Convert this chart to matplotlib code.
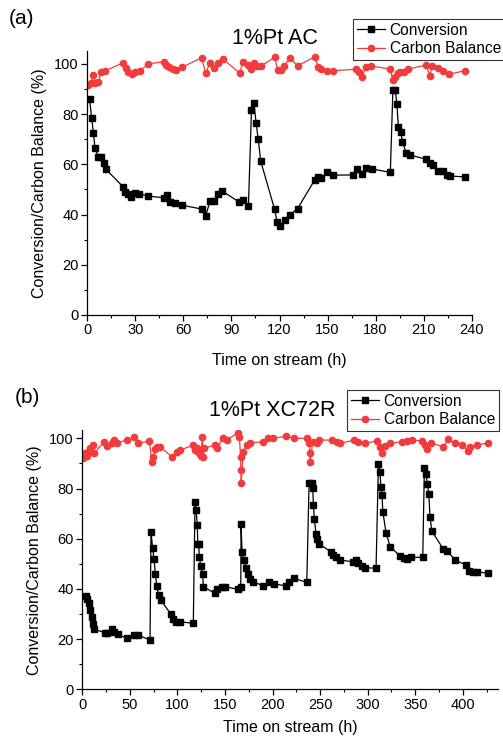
import matplotlib
matplotlib.use("Agg")
import matplotlib.pyplot as plt
from matplotlib.ticker import MultipleLocator

plt.rcParams['font.family'] = ['Liberation Sans', 'DejaVu Sans']

# (a) 1%Pt AC
conv_a_t = [1.4, 2.7, 3.8, 4.8, 6.9, 8.8, 10.6, 11.7, 22.3, 23.5, 25.6, 27.3, 30.0, 32.5, 37.7,
            47.7, 49.8, 51.9, 54.8, 59.4, 71.5, 73.8, 76.7, 79.2, 81.9, 84.4, 95.0, 97.5, 100.6,
            102.5, 104.0, 105.4, 106.7, 108.3, 116.9, 118.5, 120.4, 123.5, 126.3, 131.3,
            141.9, 144.0, 146.0, 149.8, 153.3, 166.0, 168.5, 171.3, 173.8, 177.5,
            189.2, 190.8, 192.3, 193.3, 194.2, 195.8, 196.7, 199.2, 201.7,
            211.7, 213.8, 215.8, 219.0, 222.0, 224.8, 226.3, 235.6]
conv_a = [85.9, 78.6, 72.6, 66.4, 63.1, 63.1, 60.4, 58.0, 51.1, 49.1, 48.2, 47.1, 48.6, 48.3, 47.4,
          46.7, 47.7, 45.0, 44.7, 43.7, 42.2, 39.4, 45.4, 45.4, 48.2, 49.3, 44.9, 45.9, 43.4,
          81.5, 84.4, 76.6, 70.0, 61.2, 42.2, 37.2, 35.5, 37.7, 39.8, 42.4,
          53.7, 55.0, 54.6, 56.8, 55.7, 55.8, 58.0, 56.0, 58.6, 58.2,
          56.8, 89.6, 89.6, 84.1, 75.0, 72.8, 69.1, 64.4, 63.7,
          62.0, 60.7, 59.8, 57.4, 57.4, 55.8, 55.4, 55.0]
cb_a_t = [0.6, 2.3, 3.8, 5.0, 6.9, 8.5, 11.3, 22.5, 24.2, 25.6, 27.7, 30.0, 33.1, 38.1,
          47.7, 49.2, 51.3, 53.3, 55.4, 59.2, 71.5, 73.8, 76.7, 79.2, 81.9, 84.6,
          95.2, 97.1, 100.4, 102.3, 103.9, 105.8, 108.6, 116.9, 119.0, 121.0, 123.1, 126.3, 131.3,
          142.3, 144.0, 146.0, 149.6, 153.3, 168.0, 169.6, 171.5, 173.8, 176.9,
          189.0, 190.8, 192.1, 193.8, 195.4, 197.5, 200.2, 211.7, 213.8, 215.4, 219.0, 222.0, 225.8, 235.6]
cb_a = [91.6, 92.3, 95.6, 92.6, 92.7, 96.9, 97.3, 100.5, 98.3, 96.9, 96.0, 96.9, 97.3, 100.0,
        100.9, 99.6, 98.9, 98.0, 97.6, 98.7, 102.5, 96.3, 100.5, 98.3, 100.5, 102.0,
        96.3, 100.9, 99.6, 97.9, 100.5, 99.2, 99.2, 102.6, 97.4, 97.6, 99.3, 102.3, 99.3,
        102.9, 98.9, 97.9, 97.3, 97.3, 97.9, 96.9, 94.9, 98.7, 99.2,
        98.0, 93.6, 94.7, 96.3, 96.7, 96.9, 97.9, 99.6, 95.2, 99.2, 98.3, 97.3, 95.9, 97.3]

# (b) 1%Pt XC72R
conv_b_t = [3.6, 5.3, 6.7, 8.1, 9.9, 10.9, 12.3, 23.9, 26.3, 31.2, 33.6, 37.9, 46.7, 54.7, 58.9,
            71.2, 72.2, 74.0, 75.4, 76.8, 78.2, 80.3, 82.4, 93.0, 95.1, 98.5, 102.7,
            116.7, 118.5, 119.6, 120.9, 121.4, 122.4, 123.0, 124.5, 126.6, 127.2,
            139.5, 142.0, 146.6, 150.0, 164.0, 166.6, 166.9, 167.9, 170.0, 172.1, 173.9, 176.3, 179.2,
            189.7, 196.6, 201.6, 214.2, 217.7, 222.6, 236.0,
            238.4, 241.2, 242.3, 242.9, 244.0, 245.7, 247.1, 249.2, 261.2, 263.9, 266.8, 271.0,
            285.0, 287.8, 290.2, 293.8, 297.3, 308.8, 311.3, 313.0, 313.8, 315.1, 315.9, 319.3, 323.6,
            334.1, 338.3, 341.1, 345.3, 357.9, 359.6, 361.4, 362.8, 364.2, 365.6, 367.4,
            379.6, 383.8, 391.9, 403.5, 406.9, 410.5, 414.7, 426.3]
conv_b = [37.2, 36.0, 34.3, 31.6, 28.9, 26.0, 24.0, 22.5, 22.5, 24.1, 22.7, 21.9, 20.3, 21.6, 21.6,
          19.6, 62.5, 56.2, 51.8, 45.9, 41.2, 37.6, 35.6, 30.0, 27.9, 26.9, 26.9,
          26.3, 74.7, 71.4, 65.5, 57.9, 57.9, 52.8, 49.1, 45.9, 40.9,
          38.2, 39.8, 40.9, 40.9, 39.8, 40.9, 65.9, 54.7, 51.5, 48.2, 45.8, 43.8, 42.9,
          41.3, 42.9, 42.0, 41.2, 42.9, 44.2, 42.6,
          82.3, 82.1, 80.3, 73.4, 67.8, 61.8, 59.8, 57.9, 54.8, 53.5, 52.6, 51.5,
          50.8, 51.5, 50.2, 49.1, 48.5, 48.2, 89.8, 86.7, 80.7, 77.4, 70.8, 62.4, 56.8,
          53.1, 52.2, 51.8, 52.6, 52.6, 88.0, 85.7, 81.7, 77.8, 68.5, 63.1,
          55.8, 55.1, 51.5, 49.5, 47.1, 46.6, 46.9, 46.2]
cb_b_t = [1.1, 2.8, 4.6, 6.3, 8.1, 10.9, 12.3, 22.8, 26.3, 30.9, 33.6, 36.2, 46.7, 54.7, 58.9,
          70.5, 73.0, 74.7, 76.4, 78.9, 81.7, 94.0, 99.3, 102.7,
          116.7, 118.5, 121.0, 122.7, 124.5, 126.2, 127.2, 128.0, 139.5, 142.0, 147.6, 151.8,
          163.4, 165.1, 166.4, 166.7, 167.0, 169.3, 172.9, 176.3, 189.7, 195.6, 200.8, 214.5, 222.6,
          236.6, 238.7, 239.2, 239.5, 242.3, 246.5, 249.2, 262.2, 267.5, 271.0, 285.7, 290.2, 297.3,
          309.6, 313.0, 314.8, 318.3, 323.6, 335.9, 341.1, 346.4, 356.9, 360.4, 362.2, 366.7,
          379.6, 384.9, 391.9, 398.9, 405.9, 407.7, 414.7, 426.9]
cb_b = [92.0, 94.0, 92.9, 94.7, 96.0, 97.3, 94.0, 98.6, 96.9, 98.0, 99.3, 98.2, 99.3, 100.4, 98.0,
        99.0, 90.7, 92.4, 95.6, 96.7, 96.7, 92.7, 94.7, 95.3,
        97.3, 95.3, 96.0, 94.0, 92.9, 100.4, 92.4, 96.0, 97.3, 96.0, 100.0, 99.3,
        102.2, 100.6, 92.7, 87.4, 82.3, 94.7, 97.3, 98.2, 98.6, 100.0, 100.0, 100.9, 100.0,
        100.0, 98.0, 94.0, 90.7, 98.6, 98.0, 99.3, 99.3, 98.6, 98.0, 99.3, 98.6, 98.0,
        99.0, 96.7, 94.3, 96.9, 98.0, 98.6, 99.0, 99.3, 99.0, 97.3, 95.6, 98.0,
        96.7, 99.6, 98.0, 97.3, 95.1, 96.4, 97.3, 98.2]

red = '#f03c3c'
W, H = 503, 740
fig = plt.figure(figsize=(W / 100, H / 100), dpi=100)


def panel(rect, ct, cv, bt, bv, xmax, ymax, xmaj, xmin, xpad):
    ax = fig.add_axes(rect)
    ax.plot(ct, cv, color='black', marker='s', ms=4.5, lw=0.9, label='Conversion')
    ax.plot(bt, bv, color=red, marker='o', ms=4.5, lw=0.9, label='Carbon Balance')
    ax.set_xlim(0, xmax)
    ax.set_ylim(0, ymax)
    ax.xaxis.set_major_locator(MultipleLocator(xmaj))
    ax.xaxis.set_minor_locator(MultipleLocator(xmin))
    ax.yaxis.set_major_locator(MultipleLocator(20))
    ax.yaxis.set_minor_locator(MultipleLocator(10))
    for s in ['top', 'right']:
        ax.spines[s].set_visible(False)
    for s in ['left', 'bottom']:
        ax.spines[s].set_linewidth(0.9)
    ax.tick_params(which='major', direction='out', length=4, width=0.9, labelsize=10.5, pad=2)
    ax.tick_params(which='minor', direction='out', length=2.5, width=0.8)
    ax.set_xlabel('Time on stream (h)', fontsize=11.5, labelpad=xpad)
    ax.set_ylabel('Conversion/Carbon Balance (%)', fontsize=11.5, labelpad=5)
    return ax


ax1 = panel([87.3 / W, 1 - 315 / H, 384.4 / W, 263.6 / H], conv_a_t, conv_a, cb_a_t, cb_a,
            240, 105, 30, 15, 11)
ax2 = panel([82.3 / W, 1 - 689.3 / H, 415.7 / W, 259 / H], conv_b_t, conv_b, cb_b_t, cb_b,
            437, 103.2, 50, 25, 6)

for ax, anchor in [(ax1, (353 / W, 1 - 19 / H)), (ax2, (347 / W, 1 - 390 / H))]:
    leg = ax.legend(loc='upper left', bbox_to_anchor=anchor, bbox_transform=fig.transFigure,
                    fontsize=11.2, frameon=True, fancybox=False, borderpad=0.25,
                    labelspacing=0.2, handlelength=1.8, handletextpad=0.3, borderaxespad=0)
    leg.get_frame().set_edgecolor('black')
    leg.get_frame().set_linewidth(0.8)

fig.text(22 / W, 1 - 18 / H, '(a)', fontsize=15, ha='center', va='center')
fig.text(275 / W, 1 - 38 / H, '1%Pt AC', fontsize=15.5, ha='center', va='center')
fig.text(27 / W, 1 - 398 / H, '(b)', fontsize=15, ha='center', va='center')
fig.text(272 / W, 1 - 410 / H, '1%Pt XC72R', fontsize=15.5, ha='center', va='center')

fig.savefig('out.png', dpi=100, facecolor='white')
